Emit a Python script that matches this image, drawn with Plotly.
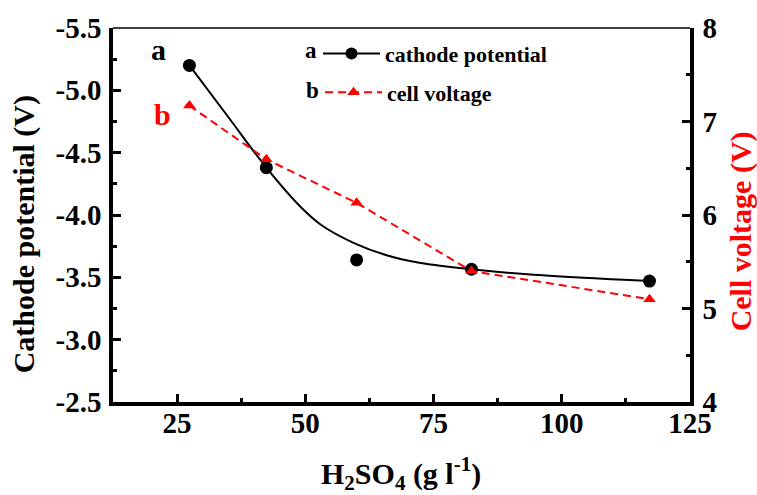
import plotly.graph_objects as go

# ---- data ----
h2so4 = [27.4, 42.4, 60.0, 82.4, 117.1]
cathode_potential = [-5.20, -4.38, -3.64, -3.565, -3.47]
cell_voltage = [7.17, 6.595, 6.13, 5.40, 5.10]

# smooth fitted curve through cathode potential
curve_x = [27.4, 34.9, 42.4, 49.2, 53.1, 59.5, 66.0, 72.5, 82.4, 94.5, 117.1]
curve_y = [-5.20, -4.79, -4.38, -4.06, -3.92, -3.775, -3.675, -3.615, -3.565, -3.52, -3.47]

x_ticks = [25, 50, 75, 100, 125]
x_ticktext = ["25", "50", "75", "100", "125"]
x_minor = [37.5, 62.5, 87.5, 112.5]
y1_ticks = [-5.5, -5.0, -4.5, -4.0, -3.5, -3.0, -2.5]
y1_ticktext = ["-5.5", "-5.0", "-4.5", "-4.0", "-3.5", "-3.0", "-2.5"]
y1_minor = [-5.25, -4.75, -4.25, -3.75, -3.25, -2.75]
y2_ticks = [4, 5, 6, 7, 8]
y2_ticktext = ["4", "5", "6", "7", "8"]
y2_minor = [4.5, 5.5, 6.5, 7.5]

W, H = 757, 495
ML, MR, MT, MB = 113, 67, 25, 93
PW, PH = W - ML - MR, H - MT - MB

def px(x):
    return (x - ML) / PW

def py(y):
    return (H - MB - y) / PH

FONT = "Liberation Serif"
RED = "#ff0000"

fig = go.Figure()

fig.add_trace(go.Scatter(x=curve_x, y=curve_y, mode="lines", line=dict(color="black", width=2, shape="spline", smoothing=1),
                         showlegend=False, hoverinfo="skip"))
fig.add_trace(go.Scatter(x=h2so4, y=cathode_potential, mode="markers",
                         marker=dict(color="black", size=13, symbol="circle"), showlegend=False))
fig.add_trace(go.Scatter(x=[None], y=[None], mode="lines+markers", name="cathode potential",
                         line=dict(color="black", width=2), marker=dict(color="black", size=12, symbol="circle"),
                         legend="legend"))
fig.add_trace(go.Scatter(x=h2so4, y=cell_voltage, mode="lines+markers", name="cell voltage", yaxis="y2",
                         line=dict(color=RED, width=2, dash="8px,5px"),
                         marker=dict(color=RED, size=11, symbol="triangle-up"),
                         legend="legend2"))

axis_common = dict(showline=True, linecolor="black", linewidth=3.5, ticks="inside", ticklen=8, tickwidth=3,
                   tickcolor="black", showgrid=False, zeroline=False, tickmode="array",
                   tickfont=dict(family=FONT, size=29, color="black", weight="bold"))

fig.update_layout(
    width=W, height=H, margin=dict(l=ML, r=MR, t=MT, b=MB),
    paper_bgcolor="white", plot_bgcolor="white",
    xaxis=dict(range=[12.5, 125], tickvals=x_ticks, ticktext=x_ticktext, ticklabelstandoff=-8,
               minor=dict(tickvals=x_minor, ticks="inside", ticklen=4, tickwidth=3, tickcolor="black"),
               **axis_common),
    yaxis=dict(range=[-2.5, -5.5], tickvals=y1_ticks, ticktext=y1_ticktext, ticklabelstandoff=2,
               minor=dict(tickvals=y1_minor, ticks="inside", ticklen=4, tickwidth=3, tickcolor="black"),
               **axis_common),
    yaxis2=dict(range=[4, 8], overlaying="y", side="right", tickvals=y2_ticks, ticktext=y2_ticktext,
                ticklabelstandoff=3,
                minor=dict(tickvals=y2_minor, ticks="inside", ticklen=4, tickwidth=3, tickcolor="black"),
                **axis_common),
    legend=dict(x=px(318), y=py(51), xanchor="left", yanchor="middle", bgcolor="rgba(0,0,0,0)",
                itemwidth=57, font=dict(family=FONT, size=22, color="black", weight="bold")),
    legend2=dict(x=px(320), y=py(90), xanchor="left", yanchor="middle", bgcolor="rgba(0,0,0,0)",
                 itemwidth=57, font=dict(family=FONT, size=22, color="black", weight="bold")),
    showlegend=True,
)

# top frame line (thin)
fig.add_shape(type="line", xref="paper", yref="paper", x0=0, x1=1, y0=1, y1=1,
              line=dict(color="black", width=1.5))

def ann(text, x, y, size, color="black", angle=0):
    fig.add_annotation(text=text, x=px(x), y=py(y), xref="paper", yref="paper", showarrow=False,
                       xanchor="center", yanchor="middle", textangle=angle,
                       font=dict(family=FONT, size=size, color=color, weight="bold"))

ann("a", 158, 47, 30)
ann("b", 162, 112, 30, RED)
ann("a", 311, 48, 23)
ann("b", 312, 88, 23)
ann("Cathode potential (V)", 24, 233, 30, angle=-90)
ann("Cell voltage (V)", 741, 230, 30, RED, angle=-90)
ann("H<sub>2</sub>SO<sub>4</sub> (g l<sup>-1</sup>)", 401, 474, 30)

fig.write_html("out.html")
